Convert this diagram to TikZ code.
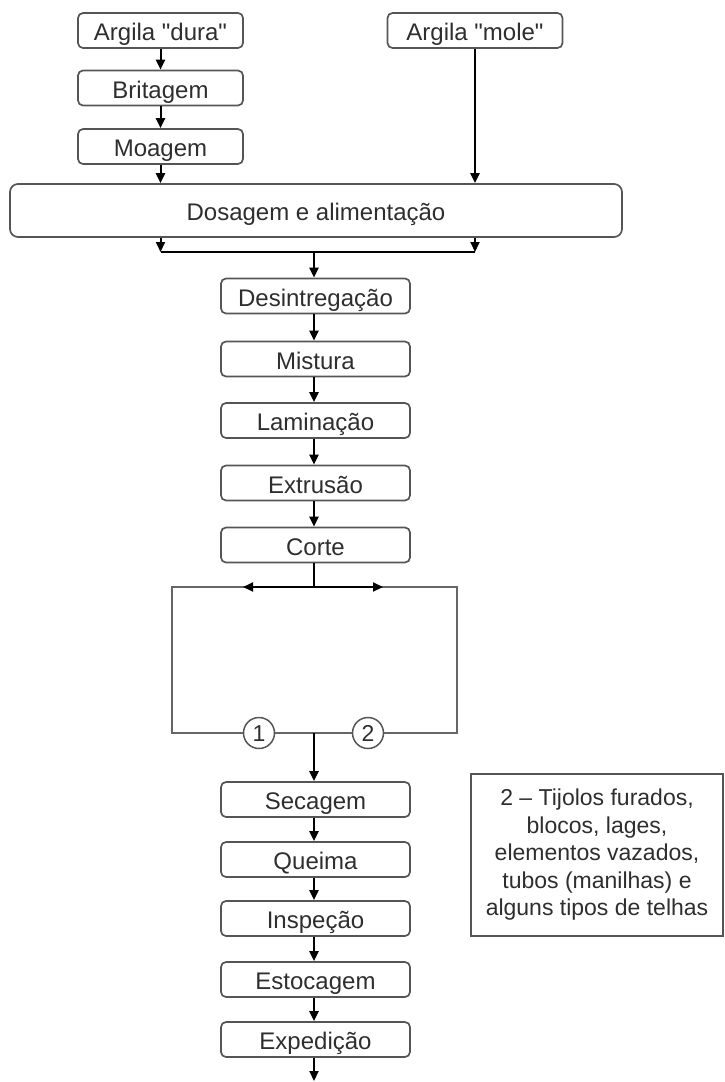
\documentclass[tikz,border=0pt]{standalone}
\usepackage{fontspec}
\setmainfont{Liberation Sans}
\usetikzlibrary{arrows.meta}
\definecolor{boxgray}{HTML}{555555}
\definecolor{txtgray}{HTML}{2E2E2E}
\definecolor{linegray}{HTML}{666666}
\begin{document}
\begin{tikzpicture}[x=1pt,y=-1pt,
  box/.style={draw=boxgray, line width=1.7pt, rounded corners=5pt, inner sep=0pt,
    text=txtgray, font=\fontsize{24}{28}\selectfont, minimum height=35pt,
    text height=20pt, text depth=0pt},
  lbox/.style={box, minimum width=165pt},
  mbox/.style={box, minimum width=189pt},
  arr/.style={line width=2pt, -{Triangle[length=10pt,width=9pt]}},
  num/.style={circle, draw=boxgray, fill=white, line width=1.5pt, minimum size=31pt,
    inner sep=0pt, text=txtgray, font=\fontsize{23}{23}\selectfont,
    text height=16.5pt, text depth=0pt},
  note/.style={draw=boxgray, line width=1.7pt, inner sep=0pt, minimum width=252pt,
    minimum height=162pt, text=txtgray, align=center, font=\fontsize{23}{27.5}\selectfont}
]
\useasboundingbox (0,0) rectangle (724,1082);

% left input column
\node[lbox] (dura) at (160.5,30.5) {Argila \textquotedbl dura\textquotedbl};
\node[lbox] (brit) at (160.5,88) {Britagem};
\node[lbox] (moag) at (160.5,146.5) {Moagem};
\node[box, minimum width=175pt] (mole) at (475,30.5) {Argila \textquotedbl mole\textquotedbl};

\node[box, minimum width=612pt, minimum height=53pt, rounded corners=8pt] (dos) at (316,210.5) {Dosagem e alimentação};

% main column
\node[mbox] (desi) at (315.5,296) {Desintregação};
\node[mbox] (mist) at (315.5,359) {Mistura};
\node[mbox] (lami) at (315.5,420.5) {Laminação};
\node[mbox] (extr) at (315.5,483) {Extrusão};
\node[mbox] (cort) at (315.5,545) {Corte};

\node[draw=linegray, line width=1.6pt, minimum width=285pt, minimum height=146pt, inner sep=0pt] (loop) at (314.5,660) {};

\node[mbox] (seca) at (315.5,799.5) {Secagem};
\node[mbox] (quei) at (315.5,859.5) {Queima};
\node[mbox] (insp) at (315.5,918.5) {Inspeção};
\node[mbox] (esto) at (315.5,979.5) {Estocagem};
\node[mbox] (expe) at (315.5,1039.5) {Expedição};

\node[num] (c1) at (259,733) {1};
\node[num] (c2) at (368,733) {2};

\node[note] (nota) at (597,855) {2 – Tijolos furados,\\ blocos, lages,\\ elementos vazados,\\ tubos (manilhas) e\\ alguns tipos de telhas};

% coordinates
\coordinate (jl) at (160.5,252);
\coordinate (jr) at (475,252);
\coordinate (split) at (314,587);
\coordinate (sl) at (243,587);
\coordinate (sr) at (383,587);
\coordinate (merge) at (314,733);
\coordinate (out) at (314,1081);

% connectors
\draw[arr] (dura) -- (brit);
\draw[arr] (brit) -- (moag);
\draw[arr] (moag) -- (moag.south |- dos.north);
\draw[arr] (mole) -- (mole.south |- dos.north);
\draw[arr] (dos.south -| moag) -- (jl);
\draw[arr] (dos.south -| mole) -- (jr);
\draw[line width=2.8pt] (jl) -- (jr);
\draw[arr] (split |- jl) -- (split |- desi.north);
\draw[arr] (desi.south -| split) -- (split |- mist.north);
\draw[arr] (mist.south -| split) -- (split |- lami.north);
\draw[arr] (lami.south -| split) -- (split |- extr.north);
\draw[arr] (extr.south -| split) -- (split |- cort.north);
\draw[line width=2pt] (cort.south -| split) -- (split);
\draw[arr] (split) -- (sl);
\draw[arr] (split) -- (sr);
\draw[arr] (merge) -- (merge |- seca.north);
\draw[arr] (seca.south -| split) -- (split |- quei.north);
\draw[arr] (quei.south -| split) -- (split |- insp.north);
\draw[arr] (insp.south -| split) -- (split |- esto.north);
\draw[arr] (esto.south -| split) -- (split |- expe.north);
\draw[arr] (expe.south -| split) -- (out);
\end{tikzpicture}
\end{document}
